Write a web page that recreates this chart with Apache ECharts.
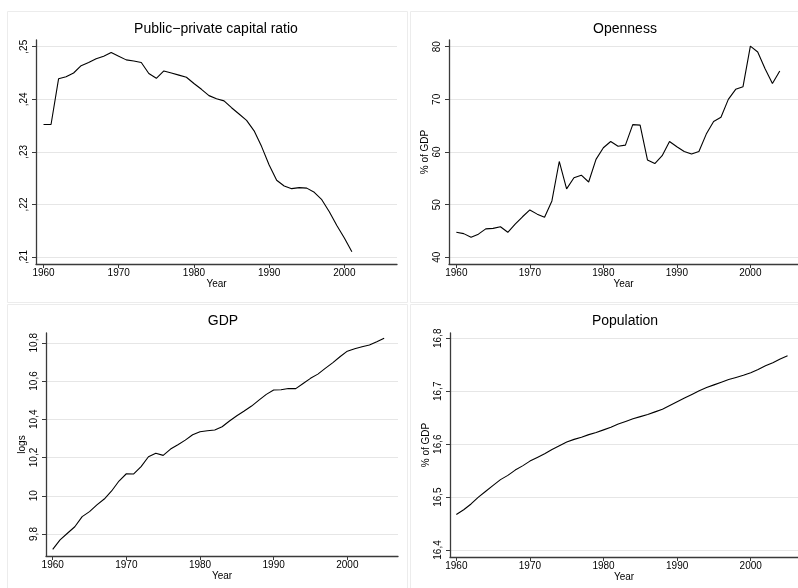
<!DOCTYPE html>
<html>
<head>
<meta charset="utf-8">
<title>Capital ratio, openness, GDP, population</title>
<script src="https://cdn.jsdelivr.net/npm/echarts@6/dist/echarts.min.js"></script>
<style>
  html, body { margin:0; padding:0; background:#fff; }
  #main { width:798px; height:588px; }
</style>
</head>
<body>
<div id="main"></div>
<script>
  var ratioYears = [1960,1961,1962,1963,1964,1965,1966,1967,1968,1969,1970,1971,1972,1973,1974,1975,1976,1977,1978,1979,
    1980,1981,1982,1983,1984,1985,1986,1987,1988,1989,1990,1991,1992,1993,1994,1995,1996,1997,1998,1999,2000,2001];
  var ratio = [0.2352,0.2352,0.2439,0.2443,0.2450,0.2464,0.2470,0.2477,0.2482,0.2489,0.2482,0.2475,0.2473,0.2470,0.2449,0.2440,0.2454,0.2450,0.2446,0.2442,
    0.2430,0.2419,0.2407,0.2401,0.2397,0.2384,0.2372,0.2360,0.2340,0.2310,0.2275,0.2246,0.2235,0.2230,0.2232,0.2231,0.2223,0.2209,0.2186,0.2160,0.2136,0.2110];

  var openYears = [1960,1961,1962,1963,1964,1965,1966,1967,1968,1969,1970,1971,1972,1973,1974,1975,1976,1977,1978,1979,
    1980,1981,1982,1983,1984,1985,1986,1987,1988,1989,1990,1991,1992,1993,1994,1995,1996,1997,1998,1999,2000,2001,2002,2003,2004];
  var openness = [44.75,44.5,43.8,44.4,45.4,45.5,45.8,44.75,46.3,47.7,49.0,48.2,47.6,50.7,58.2,53.0,55.1,55.6,54.3,58.6,
    60.8,62.0,61.1,61.3,65.2,65.1,58.5,57.8,59.3,62.0,61.0,60.1,59.6,60.1,63.4,65.8,66.6,70.0,71.9,72.4,80.1,79.0,75.8,73.0,75.4];

  var gdpYears = [1960,1961,1962,1963,1964,1965,1966,1967,1968,1969,1970,1971,1972,1973,1974,1975,1976,1977,1978,1979,
    1980,1981,1982,1983,1984,1985,1986,1987,1988,1989,1990,1991,1992,1993,1994,1995,1996,1997,1998,1999,2000,2001,2002,2003,2004,2005];
  var gdp = [9.720,9.769,9.804,9.838,9.891,9.917,9.952,9.983,10.025,10.077,10.115,10.114,10.152,10.204,10.222,10.211,10.244,10.267,10.291,10.319,
    10.335,10.340,10.344,10.361,10.391,10.418,10.443,10.469,10.500,10.530,10.553,10.554,10.561,10.560,10.587,10.614,10.636,10.666,10.695,10.727,
    10.756,10.769,10.779,10.788,10.805,10.823];

  var popYears = gdpYears;
  var population = [16.467,16.476,16.487,16.500,16.511,16.522,16.533,16.541,16.551,16.559,16.568,16.575,16.582,16.590,16.597,16.604,16.609,16.613,16.618,16.622,
    16.627,16.632,16.638,16.643,16.648,16.652,16.656,16.661,16.666,16.673,16.680,16.687,16.694,16.701,16.707,16.712,16.717,16.722,16.726,16.730,
    16.735,16.741,16.748,16.754,16.761,16.767];

  var yearTicks = [1960, 1970, 1980, 1990, 2000];
  var ratioTicks = [0.21, 0.22, 0.23, 0.24, 0.25];
  var openTicks = [40, 50, 60, 70, 80];
  var gdpTicks = [9.8, 10, 10.2, 10.4, 10.6, 10.8];
  var popTicks = [16.4, 16.5, 16.6, 16.7, 16.8];
  var titles = ['Public\u2212private capital ratio', 'Openness', 'GDP', 'Population'];

  var font = '"Liberation Sans", Arial, sans-serif';
  var axisColor = '#3a3a3a';

  function pairs(xs, ys) {
    var out = [];
    for (var i = 0; i < ys.length; i++) out.push([xs[i], ys[i]]);
    return out;
  }

  // decimal comma like the original (",25", "10,8")
  function comma(v) {
    var s = String(v);
    if (s.indexOf('0.') === 0) s = s.substring(1);
    return s.replace('.', ',');
  }

  function xAxisFor(idx, min, max) {
    return {
      type: 'value', gridIndex: idx, min: min, max: max,
      name: 'Year', nameLocation: 'middle', nameGap: 14,
      nameTextStyle: { fontSize: 10, color: '#000', fontFamily: font },
      axisLine: { show: true, onZero: false, lineStyle: { color: axisColor, width: 1.3 } },
      axisTick: { show: true, customValues: yearTicks, length: 4, lineStyle: { color: axisColor } },
      axisLabel: {
        customValues: yearTicks, fontSize: 10, margin: 4, color: '#000', fontFamily: font,
        formatter: function (v) { return String(v); }
      },
      splitLine: { show: false }
    };
  }

  function yAxisFor(idx, min, max, ticks, name) {
    return {
      type: 'value', gridIndex: idx, min: min, max: max,
      name: name, nameLocation: 'middle', nameGap: 19,
      nameTextStyle: { fontSize: 10, color: '#000', fontFamily: font },
      axisLine: { show: true, onZero: false, lineStyle: { color: axisColor, width: 1.3 } },
      axisTick: { show: true, customValues: ticks, length: 4, lineStyle: { color: axisColor } },
      axisLabel: { customValues: ticks, rotate: 90, fontSize: 10, margin: 7, color: '#000', fontFamily: font, formatter: comma },
      splitLine: { show: true, lineStyle: { color: '#e6e6e6', width: 1 } }
    };
  }

  function lineSeries(idx, data) {
    return {
      type: 'line', xAxisIndex: idx, yAxisIndex: idx, data: data,
      showSymbol: false, symbol: 'none',
      lineStyle: { color: '#000', width: 1.1 }
    };
  }

  function titleFor(text, left, top) {
    return {
      text: text, left: left, top: top, textAlign: 'center', padding: 0,
      textStyle: { fontSize: 14, fontWeight: 'normal', color: '#000', fontFamily: font }
    };
  }

  function box(x, y, w, h) {
    return { type: 'rect', shape: { x: x, y: y, width: w, height: h }, style: { fill: 'none', stroke: '#ececec', lineWidth: 1 }, silent: true };
  }

  var chart = echarts.init(document.getElementById('main'));
  var option = {
    backgroundColor: '#fff',
    animation: false,
    title: [
      titleFor(titles[0], 216, 22),
      titleFor(titles[1], 625, 22),
      titleFor(titles[2], 223, 314),
      titleFor(titles[3], 625, 314)
    ],
    graphic: [
      box(7.5, 11.5, 400, 291),
      box(410.5, 11.5, 400, 291),
      box(7.5, 304.5, 400, 300),
      box(410.5, 304.5, 400, 300)
    ],
    grid: [
      { left: 36, top: 40, width: 361, height: 224 },
      { left: 449, top: 40, width: 349, height: 224 },
      { left: 46, top: 333, width: 352, height: 223 },
      { left: 450, top: 333, width: 348, height: 224 }
    ],
    xAxis: [
      xAxisFor(0, 1959, 2007),
      xAxisFor(1, 1959, 2006.48),
      xAxisFor(2, 1959.09, 2006.88),
      xAxisFor(3, 1959.14, 2006.42)
    ],
    yAxis: [
      yAxisFor(0, 0.20867, 0.25128, ratioTicks, ''),
      yAxisFor(1, 38.73, 81.27, openTicks, '% of GDP'),
      yAxisFor(2, 9.685, 10.851, gdpTicks, 'logs'),
      yAxisFor(3, 16.3868, 16.810, popTicks, '% of GDP')
    ],
    series: [
      lineSeries(0, pairs(ratioYears, ratio)),
      lineSeries(1, pairs(openYears, openness)),
      lineSeries(2, pairs(gdpYears, gdp)),
      lineSeries(3, pairs(popYears, population))
    ]
  };
  chart.setOption(option);
</script>
</body>
</html>
